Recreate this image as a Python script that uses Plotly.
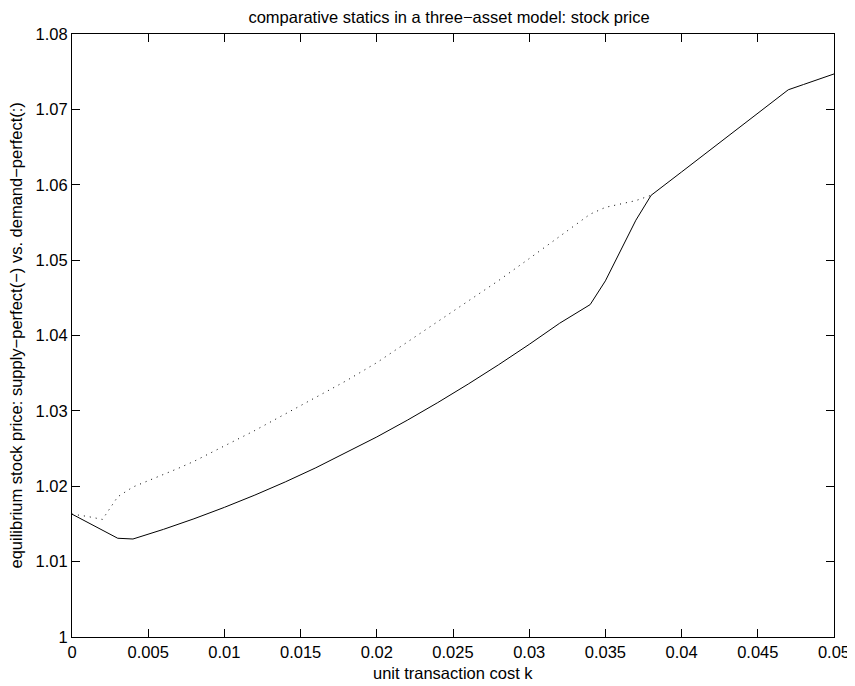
import plotly.graph_objects as go

# unit transaction cost k
k_supply = [0.0, 0.001, 0.002, 0.003, 0.004, 0.005, 0.006, 0.008, 0.010, 0.012, 0.014,
            0.016, 0.018, 0.020, 0.022, 0.024, 0.026, 0.028, 0.030, 0.032, 0.034,
            0.035, 0.037, 0.038, 0.040, 0.042, 0.044, 0.046, 0.047, 0.048, 0.049, 0.050]
price_supply = [1.0163, 1.0152, 1.0141, 1.0131, 1.0130, 1.01363, 1.01428, 1.01568, 1.01720,
                1.01883, 1.02058, 1.02245, 1.02444, 1.02654, 1.02876, 1.03110, 1.03356,
                1.03613, 1.03882, 1.04163, 1.0441, 1.04725, 1.0553, 1.0586, 1.0617,
                1.0648, 1.0680, 1.0711, 1.0726, 1.0733, 1.0740, 1.0747]

k_demand = [0.0, 0.001, 0.002, 0.003, 0.004, 0.005, 0.006, 0.007, 0.008, 0.009, 0.010,
            0.012, 0.014, 0.016, 0.018, 0.020, 0.022, 0.024, 0.026, 0.028, 0.030,
            0.032, 0.034, 0.035, 0.036, 0.037, 0.038]
price_demand = [1.0163, 1.0160, 1.0156, 1.0186, 1.0199, 1.0207, 1.0215, 1.0224, 1.0233,
                1.0243, 1.0253, 1.0274, 1.0296, 1.0318, 1.0340, 1.0364, 1.0391, 1.0418,
                1.0445, 1.0473, 1.0502, 1.0532, 1.0561, 1.0570, 1.0575, 1.0579, 1.0586]

x_ticks = [0, 0.005, 0.01, 0.015, 0.02, 0.025, 0.03, 0.035, 0.04, 0.045, 0.05]
x_tick_text = ["0", "0.005", "0.01", "0.015", "0.02", "0.025", "0.03", "0.035", "0.04", "0.045", "0.05"]
y_ticks = [1.0, 1.01, 1.02, 1.03, 1.04, 1.05, 1.06, 1.07, 1.08]
y_tick_text = ["1", "1.01", "1.02", "1.03", "1.04", "1.05", "1.06", "1.07", "1.08"]

title_text = "comparative statics in a three\u2212asset model: stock price"
x_title = "unit transaction cost k"
y_title = "equilibrium stock price: supply\u2212perfect(\u2212) vs. demand\u2212perfect(:)"

font_family = "Liberation Sans, Arial, Helvetica, sans-serif"
fs = 16.5

fig = go.Figure()
fig.add_trace(go.Scatter(x=k_demand, y=price_demand, mode="lines",
                         line=dict(color="black", width=1, dash="1px,5px"),
                         showlegend=False, hoverinfo="skip"))
fig.add_trace(go.Scatter(x=k_supply, y=price_supply, mode="lines",
                         line=dict(color="black", width=1),
                         showlegend=False, hoverinfo="skip"))

axis_common = dict(showgrid=False, zeroline=False, showline=True, linecolor="black",
                   linewidth=1, mirror="ticks", ticks="inside", ticklen=8,
                   tickcolor="black", tickwidth=1, automargin=False,
                   tickfont=dict(family=font_family, size=fs, color="black"))

# page body has an 8px margin, so the figure is sized to fit the 855x686 window
fig.update_layout(
    width=847, height=678,
    paper_bgcolor="white", plot_bgcolor="white",
    margin=dict(l=64, r=21, t=26, b=49),
    title=dict(text=title_text, x=441 / 847, xanchor="center",
               y=1 - 9 / 678, yanchor="middle",
               font=dict(family=font_family, size=fs, color="black")),
    xaxis=dict(range=[0, 0.05], tickvals=x_ticks, ticktext=x_tick_text, **axis_common),
    yaxis=dict(range=[1.0, 1.08], tickvals=y_ticks, ticktext=y_tick_text, **axis_common),
    annotations=[
        dict(text=x_title, xref="paper", yref="paper", x=0.5, y=0,
             xanchor="center", yanchor="middle", yshift=-35.5, showarrow=False,
             font=dict(family=font_family, size=fs, color="black")),
        dict(text=y_title, xref="paper", yref="paper", x=0, y=0.5, textangle=-90,
             xanchor="center", yanchor="middle", xshift=-57, showarrow=False,
             font=dict(family=font_family, size=fs, color="black")),
    ],
)

fig.write_html("out.html")
